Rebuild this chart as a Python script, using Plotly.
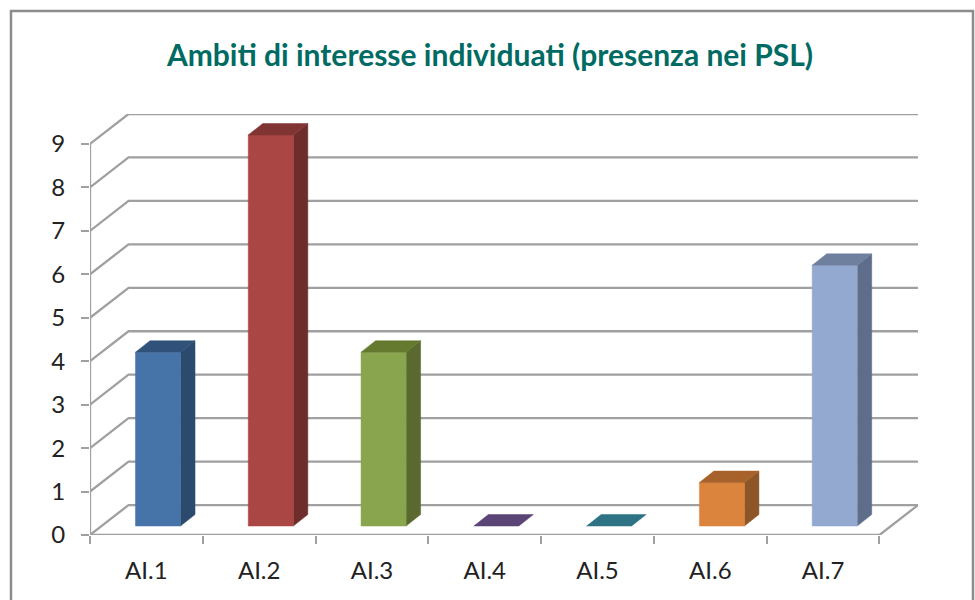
import plotly.graph_objects as go

# ---- data ----
categories = ["AI.1", "AI.2", "AI.3", "AI.4", "AI.5", "AI.6", "AI.7"]
values = [4, 9, 4, 0, 0, 1, 6]
y_ticks = [0, 1, 2, 3, 4, 5, 6, 7, 8, 9]
front_colors = ["#4674A9", "#AA4643", "#89A54E", "#71588F", "#4198AF", "#DB843D", "#93A9CF"]
side_colors = ["#2C4A6E", "#6E2C2A", "#59692F", "#46365C", "#286070", "#8E5626", "#5E6D8A"]
top_colors = ["#30527A", "#803533", "#65792F", "#5A4576", "#2E7385", "#A6622A", "#6F7F9E"]
title_text = "Ambiti di interesse individuati (presenza nei PSL)"

# ---- pixel geometry of the oblique projection ----
W, H = 975, 600
ML, MR, MT, MB = 90, 57, 114, 65
CAT_PX = 112.7
UNIT_PX = 43.55
WALL_DX, WALL_DY = 38.5 / CAT_PX, 30 / UNIT_PX
BAR_OX, BAR_OY = 11.6 / CAT_PX, 9 / UNIT_PX
BAR_W = 45 / CAT_PX
BAR_DX, BAR_DY = 14.5 / CAT_PX, 11.5 / UNIT_PX
GRID = "#A0A0A0"
n = len(categories)
ymax = max(y_ticks)

fig = go.Figure()


def poly(xs, ys, color):
    fig.add_trace(go.Scatter(x=xs, y=ys, mode="lines", fill="toself", fillcolor=color, cliponaxis=False,
                             line=dict(width=0.5, color=color), hoverinfo="skip", showlegend=False))


def line(xs, ys):
    fig.add_trace(go.Scatter(x=xs, y=ys, mode="lines", line=dict(color=GRID, width=2.3), cliponaxis=False,
                             hoverinfo="skip", showlegend=False))


for v in y_ticks:
    line([0, WALL_DX, n + WALL_DX], [v, v + WALL_DY, v + WALL_DY])
line([0, n, n + WALL_DX], [0, 0, WALL_DY])
line([0, 0], [0, ymax])

for i, v in enumerate(values):
    x0 = i + 0.5 + BAR_OX - BAR_W / 2
    x1 = x0 + BAR_W
    y0, y1 = BAR_OY, BAR_OY + v
    if v > 0:
        poly([x1, x1 + BAR_DX, x1 + BAR_DX, x1, x1], [y0, y0 + BAR_DY, y1 + BAR_DY, y1, y0], side_colors[i])
        poly([x0, x1, x1, x0, x0], [y0, y0, y1, y1, y0], front_colors[i])
    poly([x0, x1, x1 + BAR_DX, x0 + BAR_DX, x0], [y1, y1, y1 + BAR_DY, y1 + BAR_DY, y1], top_colors[i])

px = lambda p: (p - ML) / (W - ML - MR)
py = lambda p: 1 - (p - MT) / (H - MT - MB)
frame = f"M {px(11)} {py(600)} L {px(11)} {py(11)} L {px(973)} {py(11)} L {px(973)} {py(600)}"

fig.update_layout(
    width=W, height=H, autosize=False,
    margin=dict(l=ML, r=MR, t=MT, b=MB, pad=0),
    paper_bgcolor="white", plot_bgcolor="white", showlegend=False,
    font=dict(family="Lato, Carlito, sans-serif", color="#222222", size=24),
    title=dict(text=f"<b>{title_text}</b>", x=490 / W, xanchor="center", y=1 - 55 / H, yanchor="middle",
               font=dict(family="Lato, sans-serif", size=30, color="#006B63")),
    xaxis=dict(range=[0, n + WALL_DX], showgrid=False, zeroline=False, showline=False,
               tickmode="array", tickvals=[i + 0.5 for i in range(n)], ticktext=categories,
               ticks="", ticklabelstandoff=19,
               minor=dict(tickmode="array", tickvals=list(range(n + 1)), ticks="outside",
                          ticklen=8, tickwidth=2, tickcolor=GRID, showgrid=False)),
    yaxis=dict(range=[0, ymax + WALL_DY], showgrid=False, zeroline=False, showline=False,
               tickmode="array", tickvals=y_ticks, ticks="outside", ticklen=8, tickwidth=2, tickcolor=GRID,
               ticklabelstandoff=11),
    shapes=[dict(type="path", xref="paper", yref="paper", path=frame,
                 line=dict(color="#8C8C8C", width=2.5))],
)

fig.write_html("out.html", config={"displayModeBar": False}, post_script="document.body.style.margin='0';")
